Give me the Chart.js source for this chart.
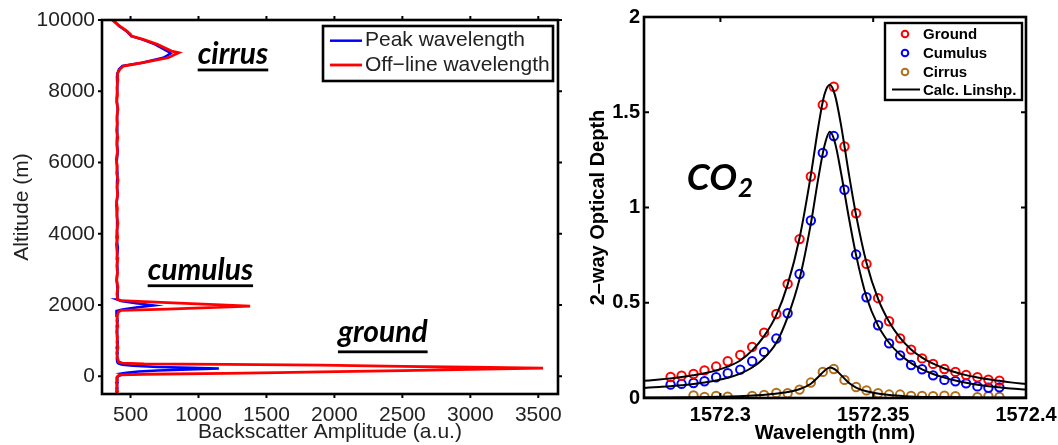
<!DOCTYPE html>
<html>
<head>
<meta charset="utf-8">
<script src="https://cdn.jsdelivr.net/npm/chart.js@4"></script>
<style>
  body { margin: 0; background: #fff; }
  #wrap { position: relative; width: 1058px; height: 445px; background: #fff; }
  #profilo { position: absolute; left: 0; top: 0; }
  #spettro { position: absolute; left: 570px; top: 0; }
</style>
</head>
<body>
<div id="wrap">
  <canvas id="profilo" width="565" height="445"></canvas>
  <canvas id="spettro" width="488" height="445"></canvas>
</div>
<script>
// pannello sinistro: profilo lidar (quota in m, ampiezza in u.a.)
var altOffline = [-500, -420, -340, -260, -180, -100, -40, 0, 40, 55, 80, 100, 120, 158, 190, 224, 251, 277, 308, 330, 345, 365, 400,
  500, 650, 800, 950, 1100, 1250, 1400, 1550, 1700, 1800, 1850, 1885, 1925, 1969, 2015, 2065, 2120, 2160,
  2300, 2500, 2700, 2900, 3100, 3300, 3500, 3700, 3900, 4100, 4300, 4500, 4700, 4900, 5100, 5300, 5500, 5700,
  5900, 6100, 6300, 6500, 6700, 6900, 7100, 7300, 7500, 7700, 7900, 8100, 8300, 8500, 8615, 8708, 8800, 8940,
  9080, 9128, 9315, 9455, 9548, 9595, 9688, 9828, 9948, 10000];
var ampOffline = [398, 405, 396, 402, 395, 404, 398, 405, 420, 600, 1200, 1580, 1900, 2500, 3000, 3535, 3000, 2500, 1900, 1200, 600, 440, 412,
  405, 398, 407, 400, 404, 397, 406, 399, 403, 410, 430, 770, 1080, 1380, 1080, 770, 430, 405,
  400, 407, 398, 404, 399, 406, 401, 396, 405, 400, 407, 399, 403, 397, 405, 400, 408, 398,
  402, 395, 404, 399, 406, 397, 403, 400, 407, 398, 404, 400, 406, 405, 421, 448, 592, 776,
  855, 802, 697, 592, 508, 500, 474, 421, 382, 385];

var altPeak = [-500, -420, -340, -260, -180, -100, -40, 0, 30, 60, 80, 100, 130, 160, 190, 215, 235, 260, 290, 320, 360, 400,
  500, 650, 800, 950, 1100, 1250, 1400, 1550, 1700, 1790, 1830, 1870, 1930, 1988, 2050, 2110, 2150,
  2400, 2700, 3000, 3300, 3600, 3900, 4200, 4500, 4800, 5100, 5400, 5700, 6000, 6300, 6600, 6900, 7200,
  7500, 7800, 8100, 8400, 8500, 8620, 8710, 8800, 8940, 9060, 9128, 9315, 9455, 9548, 9688, 9828, 9948, 10000];
var ampPeak = [402, 396, 404, 399, 405, 398, 403, 410, 430, 470, 440, 470, 560, 700, 930, 1150, 950, 700, 520, 440, 410, 402,
  399, 405, 398, 406, 400, 403, 398, 405, 400, 398, 395, 440, 540, 670, 540, 430, 402,
  405, 398, 404, 400, 407, 397, 403, 401, 396, 405, 400, 404, 398, 406, 399, 403, 400,
  405, 398, 403, 400, 403, 415, 440, 585, 740, 795, 770, 680, 585, 505, 470, 415, 385, 388];

var ampTicks = [500, 1000, 1500, 2000, 2500, 3000, 3500];
var altTicks = [0, 2000, 4000, 6000, 8000, 10000];

// pannello destro: spessore ottico a due vie del CO2
var wlMisure = [1572.2837, 1572.2873, 1572.2912, 1572.2948, 1572.2986, 1572.3024, 1572.3065, 1572.3104, 1572.3143, 1572.3183,
  1572.3220, 1572.3259, 1572.3296, 1572.3335, 1572.3371, 1572.3406, 1572.3444, 1572.3478, 1572.3516, 1572.3552,
  1572.3588, 1572.3624, 1572.3660, 1572.3696, 1572.3733, 1572.3769, 1572.3804, 1572.3841, 1572.3877, 1572.3913];
var odGround = [0.110, 0.117, 0.126, 0.145, 0.165, 0.193, 0.226, 0.268, 0.343, 0.441, 0.599, 0.834, 1.163, 1.539, 1.634,
  1.320, 0.970, 0.704, 0.524, 0.403, 0.313, 0.254, 0.208, 0.179, 0.152, 0.137, 0.121, 0.109, 0.096, 0.091];
var odCumulus = [0.070, 0.074, 0.079, 0.088, 0.109, 0.130, 0.149, 0.193, 0.242, 0.312, 0.445, 0.651, 0.932, 1.287, 1.375,
  1.093, 0.753, 0.529, 0.382, 0.287, 0.224, 0.173, 0.151, 0.119, 0.095, 0.088, 0.077, 0.061, 0.054, 0.056];
var wlCirrus = [1572.2912, 1572.2948, 1572.2986, 1572.3024, 1572.3104, 1572.3143, 1572.3183, 1572.3220, 1572.3259, 1572.3296,
  1572.3335, 1572.3371, 1572.3406, 1572.3444, 1572.3478, 1572.3516, 1572.3552, 1572.3588, 1572.3624, 1572.3660,
  1572.3696, 1572.3733, 1572.3769, 1572.3841, 1572.3877, 1572.3913];
var odCirrus = [0.014, 0.005, 0.011, 0.007, 0.011, 0.016, 0.026, 0.025, 0.044, 0.081, 0.137, 0.152, 0.095, 0.058, 0.040,
  0.025, 0.018, 0.018, 0.011, 0.011, 0.009, 0.012, 0.009, 0.004, 0.009, 0.005];

var wlFit = [1572.275, 1572.280, 1572.2837, 1572.2873, 1572.2912, 1572.2948, 1572.2986, 1572.3024, 1572.3065, 1572.3104,
  1572.3143, 1572.3183, 1572.3220, 1572.3259, 1572.3296, 1572.3320, 1572.3340, 1572.3358, 1572.3375, 1572.3395,
  1572.3420, 1572.3444, 1572.3478, 1572.3516, 1572.3552, 1572.3588, 1572.3624, 1572.3660, 1572.3696, 1572.3733,
  1572.3769, 1572.3804, 1572.3841, 1572.3877, 1572.3913, 1572.3950, 1572.400];
var fitGround = [0.090, 0.097, 0.103, 0.110, 0.119, 0.130, 0.145, 0.165, 0.197, 0.250, 0.325, 0.435, 0.595, 0.840, 1.170,
  1.420, 1.590, 1.645, 1.590, 1.430, 1.180, 0.960, 0.710, 0.520, 0.400, 0.315, 0.255, 0.212, 0.180, 0.155,
  0.135, 0.120, 0.108, 0.098, 0.090, 0.082, 0.074];
var fitCumulus = [0.053, 0.058, 0.062, 0.067, 0.073, 0.081, 0.092, 0.106, 0.128, 0.160, 0.210, 0.290, 0.425, 0.625, 0.915,
  1.150, 1.320, 1.397, 1.340, 1.180, 0.950, 0.750, 0.530, 0.380, 0.290, 0.228, 0.183, 0.150, 0.126, 0.107,
  0.092, 0.080, 0.070, 0.062, 0.056, 0.050, 0.044];
var wlFitCirrus = [1572.275, 1572.290, 1572.300, 1572.306, 1572.312, 1572.318, 1572.322, 1572.326, 1572.3296, 1572.332,
  1572.334, 1572.3358, 1572.3375, 1572.3395, 1572.342, 1572.3444, 1572.3478, 1572.352, 1572.356, 1572.362,
  1572.370, 1572.385, 1572.400];
var fitCirrus = [0.002, 0.004, 0.006, 0.009, 0.014, 0.022, 0.031, 0.047, 0.075, 0.110, 0.142, 0.160, 0.150, 0.120, 0.080,
  0.055, 0.035, 0.022, 0.014, 0.008, 0.005, 0.003, 0.002];

var wlTicks = [1572.3, 1572.35, 1572.4];
var odTicks = [0, 0.5, 1, 1.5, 2];

var SANS = '"Liberation Sans", Arial, sans-serif';
var CALI = 'Lato, "Open Sans", sans-serif';

function punti(xs, ys) {
  return xs.map(function (x, i) { return { x: x, y: ys[i] }; });
}

// cornice con tacche sui quattro lati
var cornice = {
  id: 'cornice',
  afterDatasetsDraw: function (chart, args, opts) {
    var a = chart.chartArea, ctx = chart.ctx;
    var dir = opts.inward ? -1 : 1;
    var L = opts.len;
    var sx = chart.scales.x, sy = chart.scales.y;
    ctx.save();
    ctx.strokeStyle = '#000';
    ctx.lineWidth = 2;
    ctx.beginPath();
    sx.ticks.forEach(function (t) {
      var px = sx.getPixelForValue(t.value);
      ctx.moveTo(px, a.bottom); ctx.lineTo(px, a.bottom + dir * L);
      ctx.moveTo(px, a.top); ctx.lineTo(px, a.top - dir * L);
    });
    sy.ticks.forEach(function (t) {
      var py = sy.getPixelForValue(t.value);
      ctx.moveTo(a.left, py); ctx.lineTo(a.left - dir * L, py);
      ctx.moveTo(a.right, py); ctx.lineTo(a.right + dir * L, py);
    });
    ctx.stroke();
    ctx.lineWidth = opts.width;
    ctx.strokeRect(a.left, a.top, a.right - a.left, a.bottom - a.top);
    ctx.restore();
  }
};

// legenda disegnata a mano, dentro un riquadro
var legenda = {
  id: 'legenda',
  afterDraw: function (chart, args, opts) {
    var ctx = chart.ctx;
    var voci = chart.data.datasets.filter(function (d) { return d.legenda !== false; });
    ctx.save();
    ctx.fillStyle = '#fff';
    ctx.fillRect(opts.box[0], opts.box[1], opts.box[2], opts.box[3]);
    ctx.strokeStyle = '#000';
    ctx.lineWidth = opts.boxWidth;
    ctx.strokeRect(opts.box[0], opts.box[1], opts.box[2], opts.box[3]);
    voci.forEach(function (d, i) {
      var y = opts.rows[i];
      if (d.showLine) {
        ctx.strokeStyle = d.borderColor;
        ctx.lineWidth = d.borderWidth;
        ctx.beginPath();
        ctx.moveTo(opts.line[0], y);
        ctx.lineTo(opts.line[1], y);
        ctx.stroke();
      } else {
        ctx.strokeStyle = d.borderColor;
        ctx.lineWidth = 2;
        ctx.beginPath();
        ctx.arc(opts.marker, y, 3.3, 0, Math.PI * 2);
        ctx.stroke();
      }
      ctx.fillStyle = opts.color;
      ctx.font = opts.font;
      ctx.textBaseline = 'alphabetic';
      ctx.fillText(d.label, opts.textX, y + opts.shift);
    });
    ctx.restore();
  }
};

// scritte libere (nomi delle nubi, formula)
var scritte = {
  id: 'scritte',
  afterDraw: function (chart, args, opts) {
    var ctx = chart.ctx;
    var sx = chart.scales.x, sy = chart.scales.y;
    ctx.save();
    ctx.fillStyle = '#000';
    ctx.textBaseline = 'alphabetic';
    opts.items.forEach(function (it) {
      var x = sx.getPixelForValue(it.x);
      var y = sy.getPixelForValue(it.y);
      ctx.font = it.font;
      ctx.fillText(it.text, x, y);
      var w = ctx.measureText(it.text).width;
      if (it.under) {
        ctx.fillRect(x, y + it.under, w, 2.8);
      }
      if (it.sub) {
        ctx.font = it.subFont;
        ctx.fillText(it.sub, x + w + 1, y + 7);
      }
    });
    ctx.restore();
  }
};

var profilo = new Chart(document.getElementById('profilo').getContext('2d'), {
  type: 'scatter',
  data: {
    datasets: [{
      label: 'Peak wavelength',
      data: punti(ampPeak, altPeak),
      showLine: true,
      borderColor: '#0000ff',
      borderWidth: 2.5,
      pointRadius: 0,
      order: 2
    }, {
      label: 'Off\u2212line wavelength',
      data: punti(ampOffline, altOffline),
      showLine: true,
      borderColor: '#ff0000',
      borderWidth: 2.8,
      pointRadius: 0,
      order: 1
    }]
  },
  options: {
    responsive: false,
    animation: false,
    devicePixelRatio: 1,
    layout: { padding: { top: 20, right: 7, left: 0, bottom: 0 } },
    scales: {
      x: {
        type: 'linear', min: 290, max: 3645,
        grid: { display: false, tickLength: 0 }, border: { display: false },
        afterBuildTicks: function (s) { s.ticks = ampTicks.map(function (v) { return { value: v }; }); },
        afterFit: function (s) { s.height = 51; s.paddingLeft = 0; s.paddingRight = 0; },
        ticks: { autoSkip: false, maxRotation: 0, padding: 9, color: '#222', font: { family: SANS, size: 21 },
          callback: function (v) { return String(v); } },
        title: { display: true, text: 'Backscatter Amplitude (a.u.)', color: '#222',
          font: { family: SANS, size: 21, lineHeight: 1.2 }, padding: { top: 0, bottom: 0 } }
      },
      y: {
        type: 'linear', min: -500, max: 10000,
        grid: { display: false, tickLength: 0 }, border: { display: false },
        afterBuildTicks: function (s) { s.ticks = altTicks.map(function (v) { return { value: v }; }); },
        afterFit: function (s) { s.width = 102; s.paddingTop = 0; s.paddingBottom = 0; },
        ticks: { autoSkip: false, padding: 7, color: '#222', font: { family: SANS, size: 21 },
          callback: function (v) { return String(v); } },
        title: { display: true, text: 'Altitude (m)', color: '#222',
          font: { family: SANS, size: 21, lineHeight: 1.2 }, padding: { top: 10, bottom: 0 } }
      }
    },
    plugins: {
      legend: { display: false },
      tooltip: { enabled: false },
      cornice: { inward: false, len: 4, width: 2.6 },
      legenda: { box: [323, 26, 230, 55], boxWidth: 2.6, rows: [40.7, 65], line: [330, 362], marker: 346,
        textX: 365, shift: 5.5, font: '21px ' + SANS, color: '#222' },
      scritte: { items: [
        { text: 'cirrus', x: 994, y: 8763, font: 'italic bold 30px ' + CALI, under: 4.5 },
        { text: 'cumulus', x: 626, y: 2705, font: 'italic bold 30px ' + CALI, under: 4.5 },
        { text: 'ground', x: 2026, y: 948, font: 'italic bold 30px ' + CALI, under: 8 }
      ] }
    }
  },
  plugins: [cornice, legenda, scritte]
});

var spettro = new Chart(document.getElementById('spettro').getContext('2d'), {
  type: 'scatter',
  data: {
    datasets: [{
      label: 'Ground',
      data: punti(wlMisure, odGround),
      borderColor: '#ff0000', backgroundColor: 'rgba(0,0,0,0)',
      pointRadius: 4.2, pointBorderWidth: 2, order: 2
    }, {
      label: 'Cumulus',
      data: punti(wlMisure, odCumulus),
      borderColor: '#0000ff', backgroundColor: 'rgba(0,0,0,0)',
      pointRadius: 4.2, pointBorderWidth: 2, order: 2
    }, {
      label: 'Cirrus',
      data: punti(wlCirrus, odCirrus),
      borderColor: '#b26f1b', backgroundColor: 'rgba(0,0,0,0)',
      pointRadius: 4.2, pointBorderWidth: 2, order: 2
    }, {
      label: 'Calc. Linshp.',
      data: punti(wlFit, fitGround),
      showLine: true, borderColor: '#000', borderWidth: 2, pointRadius: 0,
      cubicInterpolationMode: 'monotone', order: 1
    }, {
      label: 'Calc. Linshp.', legenda: false,
      data: punti(wlFit, fitCumulus),
      showLine: true, borderColor: '#000', borderWidth: 2, pointRadius: 0,
      cubicInterpolationMode: 'monotone', order: 1
    }, {
      label: 'Calc. Linshp.', legenda: false,
      data: punti(wlFitCirrus, fitCirrus),
      showLine: true, borderColor: '#000', borderWidth: 2, pointRadius: 0,
      cubicInterpolationMode: 'monotone', order: 1
    }]
  },
  options: {
    responsive: false,
    animation: false,
    devicePixelRatio: 1,
    layout: { padding: { top: 17, right: 32, left: 0, bottom: 0 } },
    scales: {
      x: {
        type: 'linear', min: 1572.275, max: 1572.4,
        grid: { display: false, tickLength: 0 }, border: { display: false },
        afterBuildTicks: function (s) { s.ticks = wlTicks.map(function (v) { return { value: v }; }); },
        afterFit: function (s) { s.height = 47; s.paddingLeft = 0; s.paddingRight = 0; },
        ticks: { autoSkip: false, maxRotation: 0, padding: 5, color: '#000',
          font: { family: SANS, size: 20, weight: 'bold' },
          callback: function (v) { return String(v); } },
        title: { display: true, text: 'Wavelength (nm)', color: '#000',
          font: { family: SANS, size: 20, weight: 'bold', lineHeight: 1.2 }, padding: { top: 0, bottom: 0 } }
      },
      y: {
        type: 'linear', min: 0, max: 2,
        grid: { display: false, tickLength: 0 }, border: { display: false },
        afterBuildTicks: function (s) { s.ticks = odTicks.map(function (v) { return { value: v }; }); },
        afterFit: function (s) { s.width = 74; s.paddingTop = 0; s.paddingBottom = 0; },
        ticks: { autoSkip: false, padding: 4, color: '#000', font: { family: SANS, size: 20, weight: 'bold' },
          callback: function (v) { return String(v); } },
        title: { display: true, text: '2\u2013way Optical Depth', color: '#000',
          font: { family: SANS, size: 20, weight: 'bold', lineHeight: 1.2 }, padding: { top: 16, bottom: 0 } }
      }
    },
    plugins: {
      legend: { display: false },
      tooltip: { enabled: false },
      cornice: { inward: true, len: 5, width: 2.6 },
      legenda: { box: [315, 23, 137, 77], boxWidth: 2.4, rows: [34, 53, 72, 89.5], line: [322, 350], marker: 335,
        textX: 353, shift: 5.4, font: 'bold 15px ' + SANS, color: '#000' },
      scritte: { items: [
        { text: 'CO', x: 1572.289, y: 1.09, font: 'italic bold 37px ' + CALI, sub: '2', subFont: 'italic bold 26px ' + CALI }
      ] }
    }
  },
  plugins: [cornice, legenda, scritte]
});
</script>
</body>
</html>
